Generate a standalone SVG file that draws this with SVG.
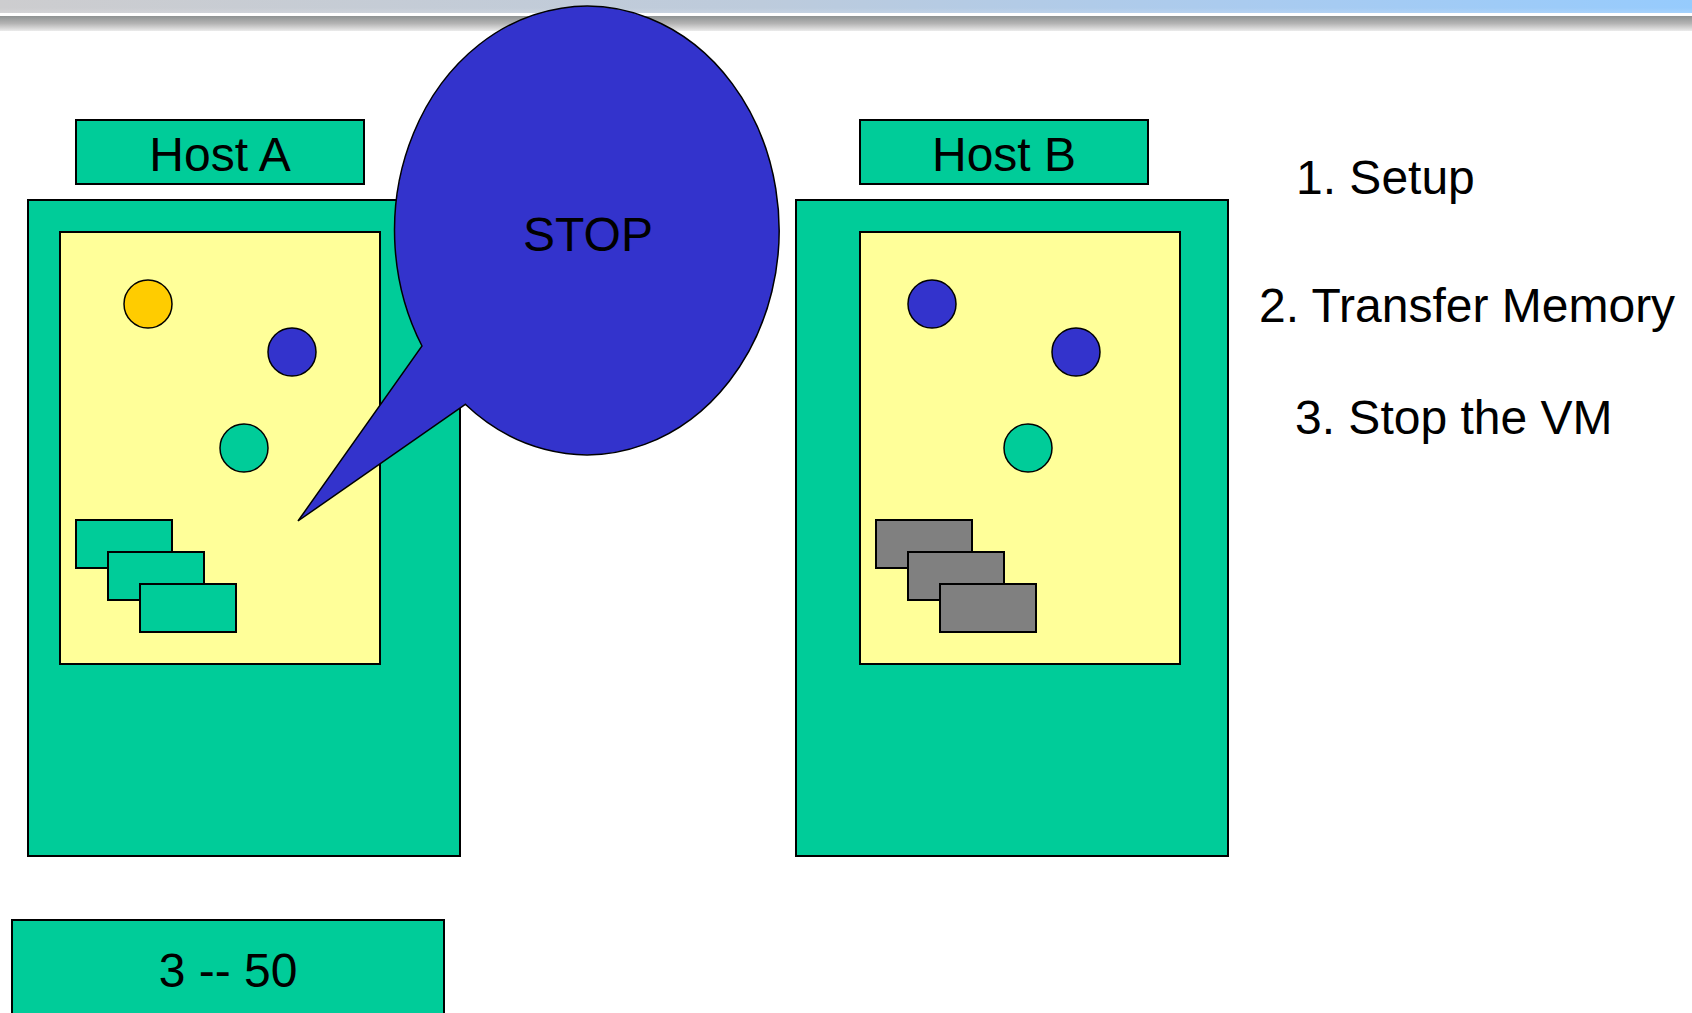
<svg xmlns="http://www.w3.org/2000/svg" width="1692" height="1013" viewBox="0 0 1692 1013">
  <defs>
    <linearGradient id="topbar" x1="0" y1="0" x2="1" y2="0">
      <stop offset="0" stop-color="#cdcdcf"/>
      <stop offset="0.45" stop-color="#bdcbdc"/>
      <stop offset="0.75" stop-color="#a9cbf0"/>
      <stop offset="1" stop-color="#96cbfd"/>
    </linearGradient>
    <linearGradient id="topshade" x1="0" y1="0" x2="0" y2="1">
      <stop offset="0" stop-color="#ffffff" stop-opacity="0"/>
      <stop offset="0.6" stop-color="#ffffff" stop-opacity="0"/>
      <stop offset="1" stop-color="#ffffff" stop-opacity="0.15"/>
    </linearGradient>
    <linearGradient id="shadow" x1="0" y1="0" x2="0" y2="1">
      <stop offset="0" stop-color="#8e9292"/>
      <stop offset="0.5" stop-color="#b4b4b4"/>
      <stop offset="1" stop-color="#ebebeb"/>
    </linearGradient>
  </defs>
  <style>
    .host { fill: #00cc99; stroke: #000; stroke-width: 2; }
    .vm { fill: #ffff99; stroke: #000; stroke-width: 2; }
    .page { fill: #00cc99; stroke: #000; stroke-width: 2; }
    .gpage { fill: #808080; stroke: #000; stroke-width: 2; }
    .dot { stroke: #000; stroke-width: 1.5; }
    .blue { fill: #3333cc; }
    .green { fill: #00cc99; }
    .gold { fill: #ffcc00; }
    text { font-family: "Liberation Sans", Arial, sans-serif; font-size: 48px; fill: #000; }
    .c { text-anchor: middle; }
  </style>
  <rect width="1692" height="1013" fill="#ffffff"/>
  <g id="header">
    <rect x="0" y="0" width="1692" height="13" fill="url(#topbar)"/>
    <rect x="0" y="0" width="1692" height="13" fill="url(#topshade)"/>
    <rect x="0" y="16" width="1692" height="15" fill="url(#shadow)"/>
  </g>

  <g id="hostA">
    <rect class="host" x="28" y="200" width="432" height="656"/>
    <rect class="vm" x="60" y="232" width="320" height="432"/>
    <circle class="dot gold" cx="148" cy="304" r="24"/>
    <circle class="dot blue" cx="292" cy="352" r="24"/>
    <circle class="dot green" cx="244" cy="448" r="24"/>
    <rect class="page" x="76" y="520" width="96" height="48"/>
    <rect class="page" x="108" y="552" width="96" height="48"/>
    <rect class="page" x="140" y="584" width="96" height="48"/>
  </g>
  <g id="hostA-label">
    <rect class="host" x="76" y="120" width="288" height="64"/>
    <text class="c" x="220" y="171">Host A</text>
  </g>

  <g id="hostB">
    <rect class="host" x="796" y="200" width="432" height="656"/>
    <rect class="vm" x="860" y="232" width="320" height="432"/>
    <circle class="dot blue" cx="932" cy="304" r="24"/>
    <circle class="dot blue" cx="1076" cy="352" r="24"/>
    <circle class="dot green" cx="1028" cy="448" r="24"/>
    <rect class="gpage" x="876" y="520" width="96" height="48"/>
    <rect class="gpage" x="908" y="552" width="96" height="48"/>
    <rect class="gpage" x="940" y="584" width="96" height="48"/>
  </g>
  <g id="hostB-label">
    <rect class="host" x="860" y="120" width="288" height="64"/>
    <text class="c" x="1004" y="171">Host B</text>
  </g>

  <g id="stop-callout">
    <path d="M 465.3 404.3 L 298 521 L 422 346 A 192.3 224.3 0 1 1 465.3 404.3 Z" fill="#3333cc" stroke="#000" stroke-width="1.5" stroke-linejoin="miter"/>
    <text class="c" x="588" y="251">STOP</text>
  </g>

  <g id="steps">
    <text x="1296" y="194">1. Setup</text>
    <text x="1259" y="322">2. Transfer Memory</text>
    <text x="1295" y="434">3. Stop the VM</text>
  </g>

  <g id="counter">
    <rect class="host" x="12" y="920" width="432" height="110"/>
    <text class="c" x="228" y="987">3 -- 50</text>
  </g>

  <g id="connectors"/>
</svg>
